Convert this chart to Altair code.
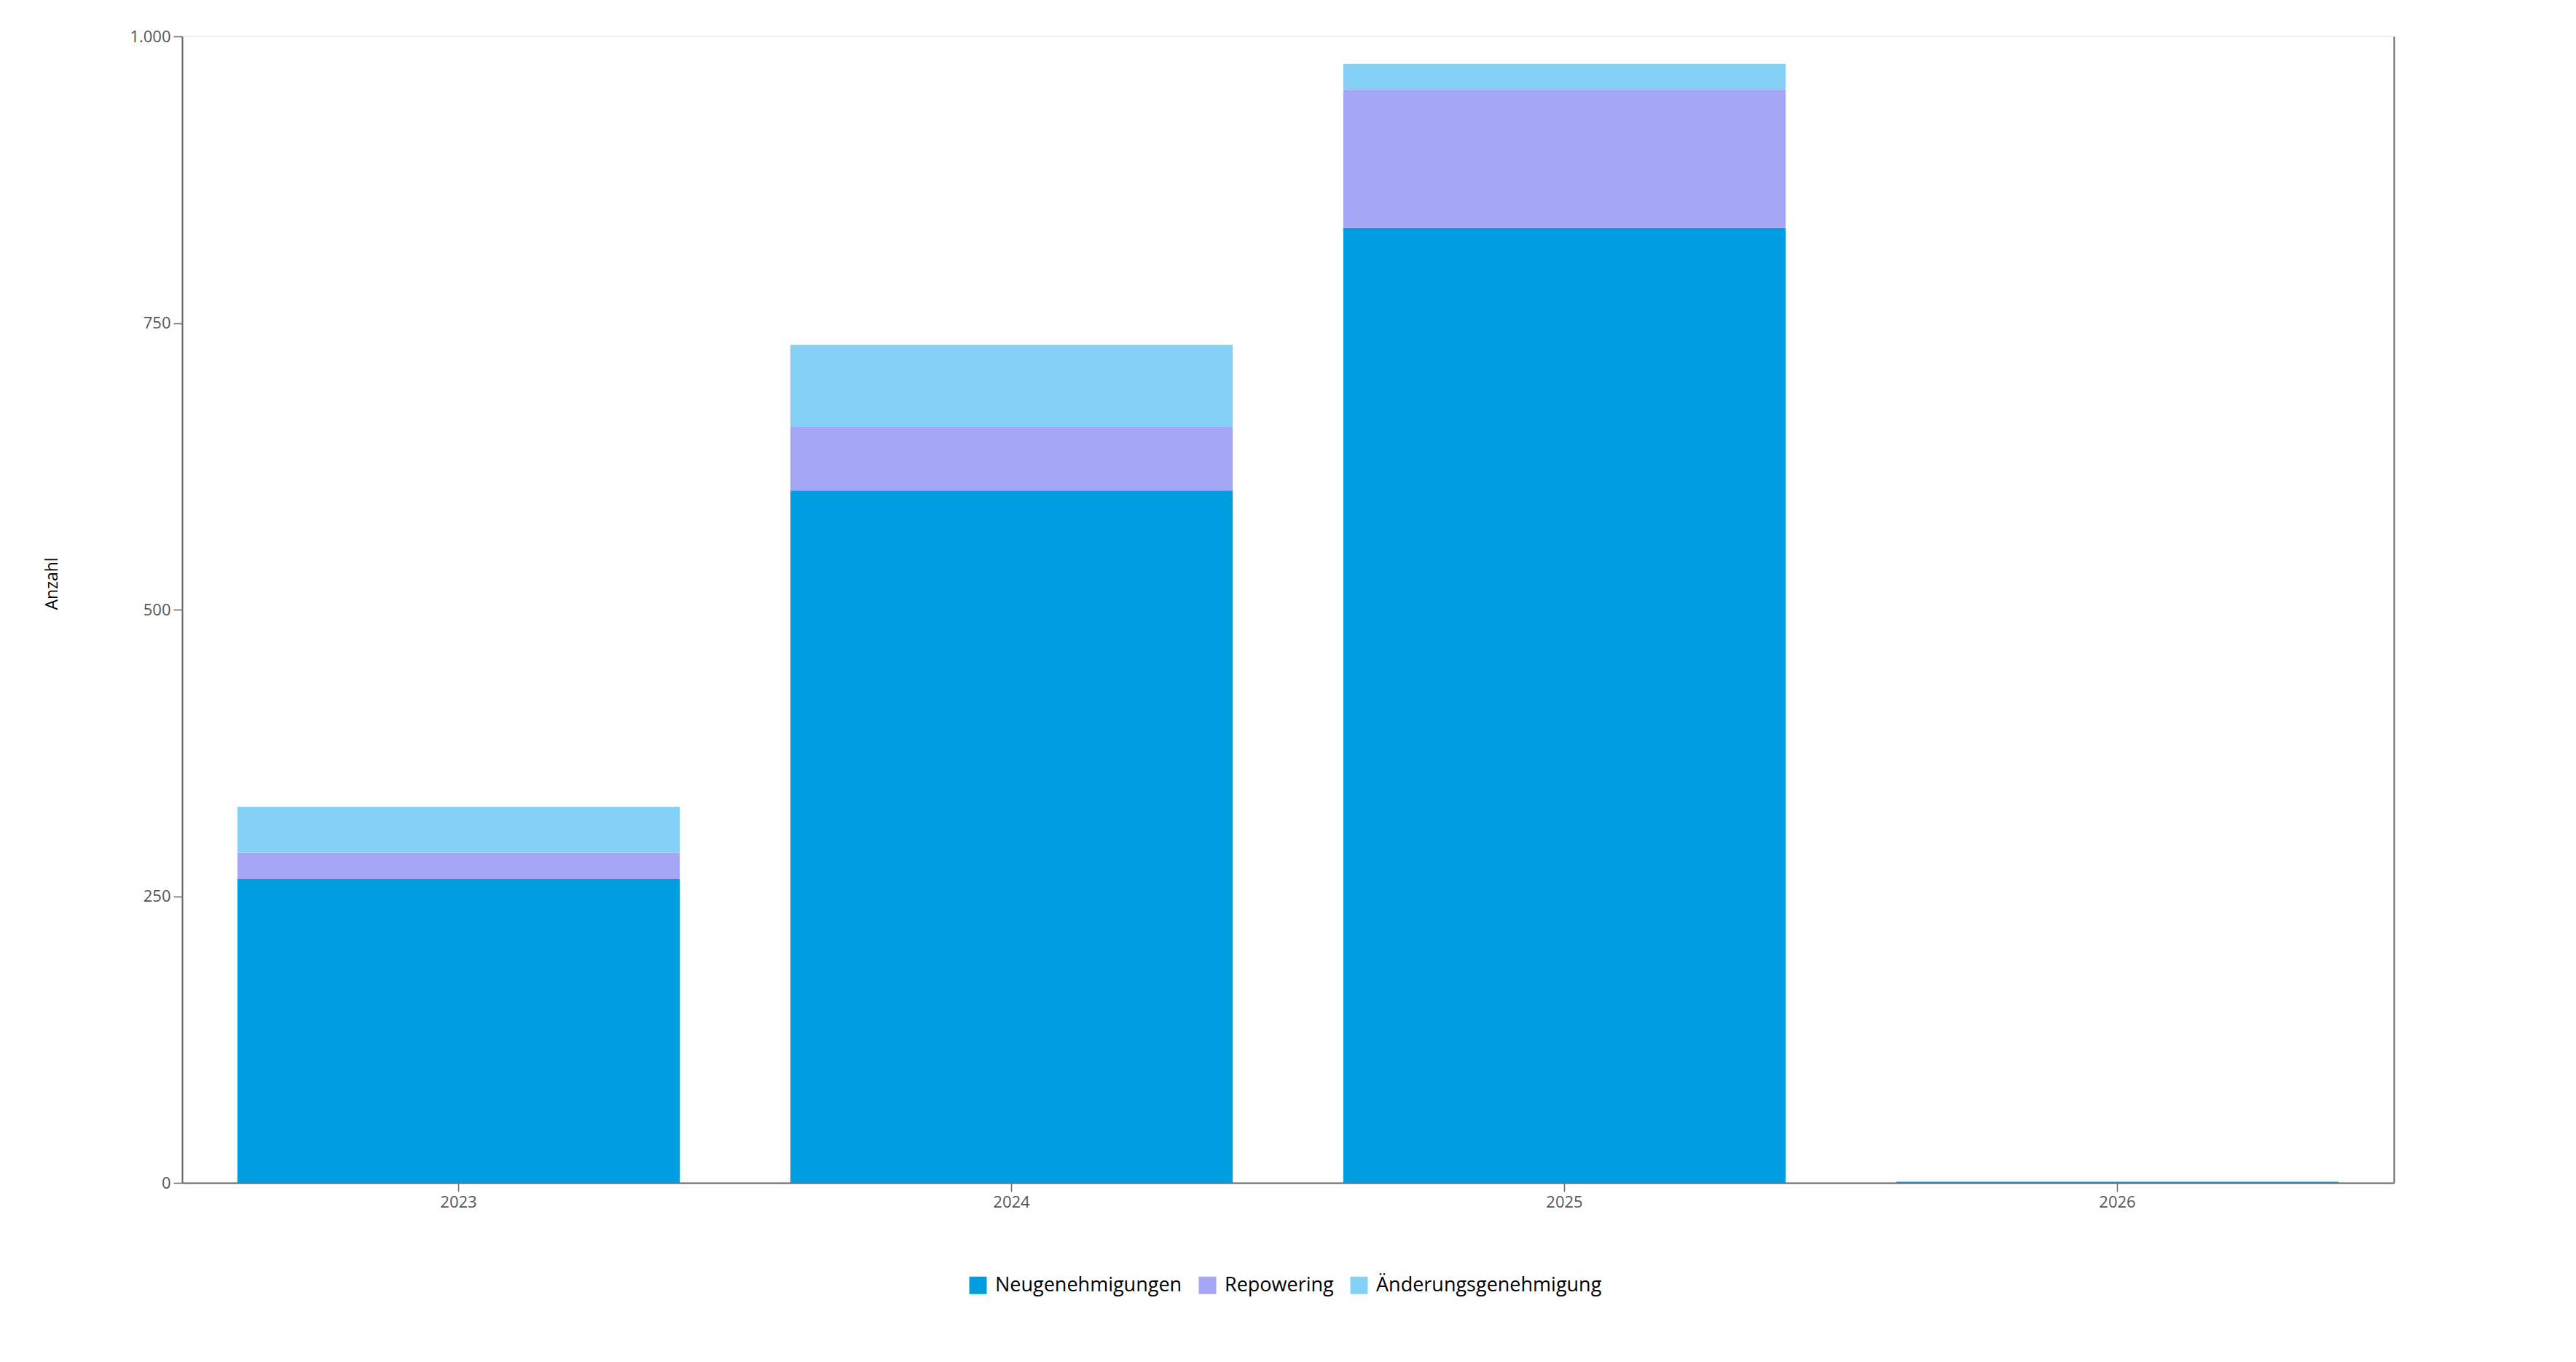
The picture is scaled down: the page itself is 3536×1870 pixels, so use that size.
import altair as alt
import pandas as pd

years = ["2023", "2024", "2025", "2026"]
series = ["Neugenehmigungen", "Repowering", "Änderungsgenehmigung"]
neu = [265, 604, 833, 1]
repowering = [23, 56, 121, 0]
aenderung = [40, 71, 22, 0]
colors = ["#009EE0", "#A6A6F6", "#85D0F5"]
y_ticks = [0, 250, 500, 750, 1000]

rows = []
for i, yr in enumerate(years):
    for k, (s, vals) in enumerate(zip(series, [neu, repowering, aenderung])):
        rows.append({"Jahr": yr, "Art": s, "Anzahl": vals[i], "order": k})
df = pd.DataFrame(rows)

font = "Open Sans"
AX = "#666666"

x_enc = alt.X(
    "Jahr:N",
    sort=years,
    scale=alt.Scale(paddingInner=0.2, paddingOuter=0.1),
    axis=alt.Axis(
        title=None, labelAngle=0, tickSize=12, labelPadding=4,
        domainColor=AX, domainWidth=2, tickColor=AX, tickWidth=1.5,
        labelColor="#555555", labelFont=font, labelFontSize=22,
    ),
)

bars = alt.Chart(df).mark_bar().encode(
    x=x_enc,
    y=alt.Y(
        "Anzahl:Q",
        stack="zero",
        scale=alt.Scale(domain=[0, 1000], nice=False),
        axis=alt.Axis(
            values=y_ticks,
            labelExpr="replace(format(datum.value, ','), ',', '.')",
            tickSize=12, labelPadding=4, grid=False,
            domainColor=AX, domainWidth=2, tickColor=AX, tickWidth=1.5,
            labelColor="#555555", labelFont=font, labelFontSize=22,
            title="Anzahl", titleColor="#000000", titleFont=font,
            titleFontWeight="normal", titleFontSize=23, titleAngle=270,
            titleAlign="left", titleBaseline="middle", titleX=-179, titleY=787,
        ),
    ),
    color=alt.Color(
        "Art:N",
        scale=alt.Scale(domain=series, range=colors),
        legend=alt.Legend(
            title=None, orient="none", legendX=1079, legendY=1701,
            direction="horizontal", symbolType="square", symbolSize=576,
            symbolStrokeWidth=0, labelFont=font, labelFontSize=27,
            labelColor="#000000", columnPadding=21, labelOffset=10,
            labelLimit=1000,
        ),
    ),
    order=alt.Order("order:Q"),
)

right = alt.Chart(df).mark_bar(opacity=0).encode(
    x=x_enc,
    y=alt.Y(
        "sum(Anzahl):Q",
        scale=alt.Scale(domain=[0, 1000], nice=False),
        axis=alt.Axis(
            orient="right", labels=False, ticks=False, grid=False,
            domainColor=AX, domainWidth=2, title=None,
        ),
    ),
)

chart = (
    alt.layer(bars, right)
    .resolve_scale(y="independent")
    .properties(
        width=3036,
        height=1574,
        padding={"left": 242, "top": 42, "right": 242, "bottom": 238},
        autosize=alt.AutoSizeParams(type="none"),
    )
    .configure_view(stroke="#f0f0f0", strokeWidth=2)
)

chart.save("out.html", embed_options={"renderer": "svg", "actions": False})
